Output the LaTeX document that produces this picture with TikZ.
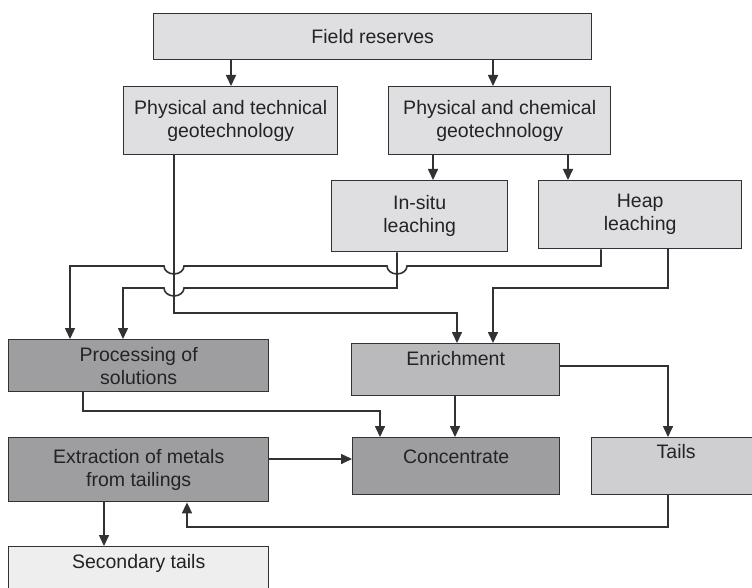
\documentclass[tikz,border=0pt]{standalone}
\usepackage{fontspec}
\setmainfont{Liberation Sans}
\usepackage{tikz}
\usetikzlibrary{arrows.meta}
\definecolor{boxline}{RGB}{50, 50, 52}
\definecolor{textgray}{RGB}{35, 35, 37}
\definecolor{paleshade}{RGB}{223, 223, 225}
\definecolor{midshade}{RGB}{186, 186, 189}
\definecolor{tailshade}{RGB}{207, 207, 209}
\definecolor{darkshade}{RGB}{158, 158, 161}
\definecolor{lightshade}{RGB}{238, 238, 238}

\tikzset{
  geobox/.style={draw=boxline, line width=1.4pt, anchor=north west, inner sep=2pt,
                 align=center, text=textgray},
  flow/.style={draw=boxline, line width=1.6pt, -{Triangle[length=11pt, width=10pt]}}
}

\begin{document}
\begin{tikzpicture}[x=1pt, y=1pt, font=\fontsize{19.5}{23}\selectfont]
  \useasboundingbox (0,0) rectangle (752,-588);
  \clip (0,0) rectangle (752,-588);
  \fill[white] (0,0) rectangle (752,-588);

  \node[geobox, fill=paleshade, minimum width=438, minimum height=46] (field) at (153,-13) {Field reserves};
  \node[geobox, fill=paleshade, minimum width=214, minimum height=68] (phystech) at (123,-86) {Physical and technical\\geotechnology};
  \node[geobox, fill=paleshade, minimum width=222, minimum height=68] (physchem) at (388,-86) {Physical and chemical\\geotechnology};
  \node[geobox, fill=paleshade, minimum width=176, minimum height=71] (insitu) at (331,-180) {In-situ\\leaching};
  \node[geobox, fill=paleshade, minimum width=203, minimum height=68] (heap) at (538,-180) {Heap\\leaching};
  \node[geobox, fill=darkshade, minimum width=260, minimum height=52] (proc) at (8,-339) {Processing of\\solutions};
  \node[geobox, fill=midshade, minimum width=208, inner ysep=0pt, text height=22pt, text depth=30pt] (enrich) at (351,-343) {Enrichment};
  \node[geobox, fill=darkshade, minimum width=207, inner ysep=0pt, text height=26pt, text depth=31pt] (conc) at (352,-437) {Concentrate};
  \node[geobox, fill=tailshade, minimum width=169, inner ysep=0pt, text height=21pt, text depth=36pt] (tails) at (591,-437) {Tails};
  \node[geobox, fill=darkshade, minimum width=260, minimum height=64] (extract) at (8,-437) {Extraction of metals\\from tailings};
  \node[geobox, fill=lightshade, minimum width=260, inner ysep=0pt, text height=22pt, text depth=32pt] (second) at (8,-546) {Secondary tails};

  \draw[flow] (231,0 |- field.south) -- (231,0 |- phystech.north);
  \draw[flow] (493,0 |- field.south) -- (493,0 |- physchem.north);
  \draw[flow] (433,0 |- physchem.south) -- (433,0 |- insitu.north);
  \draw[flow] (568,0 |- physchem.south) -- (568,0 |- heap.north);

  \draw[flow] (174,0 |- phystech.south) -- (174,-313) -- (457,-313) -- (457,0 |- enrich.north);
  \draw[flow] (601,0 |- heap.south) -- (601,-266) -- (407,-266)
    arc[start angle=0, end angle=-180, x radius=10, y radius=8] -- (184,-266)
    arc[start angle=0, end angle=-180, x radius=10, y radius=8] -- (70,-266) -- (70,0 |- proc.north);
  \draw[flow] (397,0 |- insitu.south) -- (397,-288) -- (184,-288)
    arc[start angle=0, end angle=-180, x radius=10, y radius=8] -- (123,-288) -- (123,0 |- proc.north);
  \draw[flow] (668,0 |- heap.south) -- (668,-288) -- (493,-288) -- (493,0 |- enrich.north);

  \draw[flow] (enrich.east |- 0,-366) -- (668,-366) -- (668,0 |- tails.north);
  \draw[flow] (455,0 |- enrich.south) -- (455,0 |- conc.north);
  \draw[flow] (83,0 |- proc.south) -- (83,-411) -- (380,-411) -- (380,0 |- conc.north);
  \draw[flow] (extract.east |- 0,-459) -- (conc.west |- 0,-459);
  \draw[flow] (668,0 |- tails.south) -- (668,-527) -- (187,-527) -- (187,0 |- extract.south);
  \draw[flow] (104,0 |- extract.south) -- (104,0 |- second.north);
\end{tikzpicture}
\end{document}
